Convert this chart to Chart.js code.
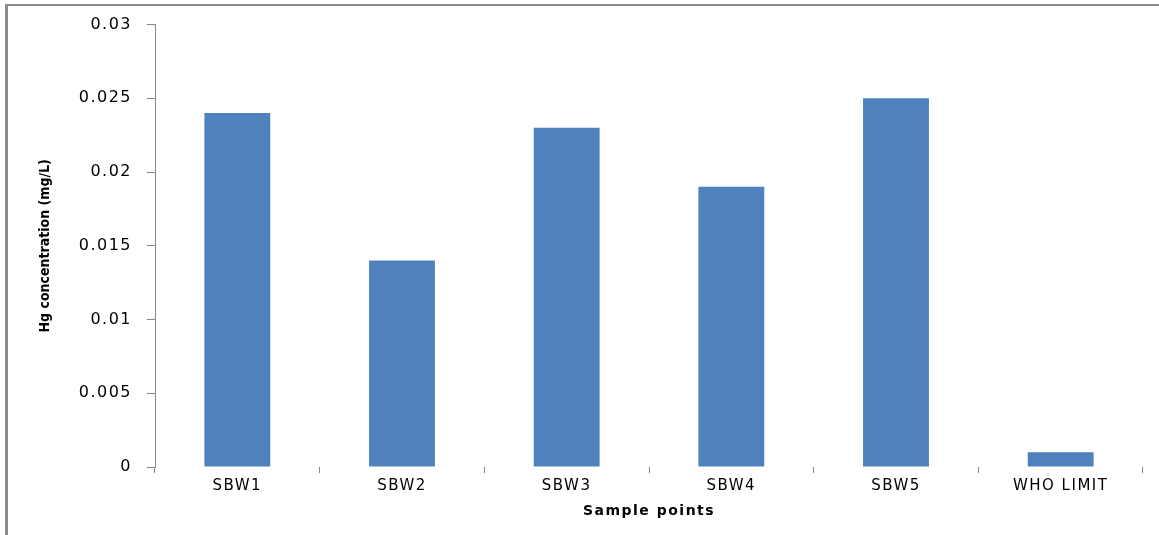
<!DOCTYPE html>
<html>
<head>
<meta charset="utf-8">
<script src="https://cdn.jsdelivr.net/npm/chart.js@4/dist/chart.umd.min.js"></script>
<style>
  body { margin: 0; background: #fff; }
  #wrap { position: relative; width: 1159px; height: 535px; }
</style>
</head>
<body>
<div id="wrap"><canvas id="myCanvas"></canvas></div>
<script>
// DATA for graph
let categories = ['SBW1', 'SBW2', 'SBW3', 'SBW4', 'SBW5', 'WHO LIMIT'];
let hgValues = [0.024, 0.014, 0.023, 0.019, 0.025, 0.001];
let yTicks = [0, 0.005, 0.01, 0.015, 0.02, 0.025, 0.03];
let yTitle = 'Hg concentration (mg/L)';

let axisGrey = '#868686';

// gray frame on left and top + a bit of letter spacing (original text is wide)
let framePlugin = {
    id: 'frame',
    beforeDraw(chart) {
        let ctx = chart.ctx;
        ctx.save();
        ctx.strokeStyle = '#8c8c8c';
        ctx.lineWidth = 2;
        ctx.beginPath();
        ctx.moveTo(5, 5);
        ctx.lineTo(1159, 5);
        ctx.stroke();
        ctx.lineWidth = 3;
        ctx.beginPath();
        ctx.moveTo(6.5, 4);
        ctx.lineTo(6.5, 535);
        ctx.stroke();
        ctx.restore();
        ctx.letterSpacing = '1.5px';
    },
    afterDraw(chart) {
        // y title drawn here so it keeps normal (narrow) spacing
        let ctx = chart.ctx;
        let area = chart.chartArea;
        ctx.save();
        ctx.letterSpacing = '0px';
        ctx.translate(45, (area.top + area.bottom) / 2);
        ctx.rotate(-Math.PI / 2);
        ctx.font = "bold 14px 'DejaVu Sans Condensed', sans-serif";
        ctx.fillStyle = '#000';
        ctx.textAlign = 'center';
        ctx.textBaseline = 'middle';
        ctx.fillText(yTitle, 0, 0);
        ctx.restore();
        ctx.letterSpacing = '0px';
    }
};

let data = {
    labels: categories,
    datasets: [{
        data: hgValues,
        backgroundColor: '#4F81BD',
        barPercentage: 0.4,
        categoryPercentage: 1.0
    }]
};

let options = {
    responsive: true,
    maintainAspectRatio: false,
    devicePixelRatio: 1,
    animation: false,
    layout: { padding: { top: 22, right: 16, left: 0, bottom: 0 } },
    plugins: { legend: { display: false }, tooltip: { enabled: false } },
    scales: {
        x: {
            offset: true,
            grid: { offset: true, drawOnChartArea: false, tickLength: 6, color: axisGrey },
            border: { display: false },
            ticks: { color: '#000', padding: 4, font: { family: 'DejaVu Sans', size: 15 } },
            title: {
                display: true,
                text: 'Sample points',
                color: '#000',
                font: { family: 'DejaVu Sans', size: 14, weight: 'bold' },
                padding: { top: 0, bottom: 15 }
            },
            afterFit(scale) { scale.height = 68; }
        },
        y: {
            min: 0,
            max: 0.03,
            afterBuildTicks(scale) { scale.ticks = yTicks.map(v => ({ value: v })); },
            grid: { drawOnChartArea: false, tickLength: 8, color: axisGrey },
            border: { display: true, color: axisGrey },
            ticks: {
                color: '#000',
                padding: 15,
                font: { family: 'DejaVu Sans', size: 16 },
                callback: v => String(+v.toFixed(3))
            },
            afterFit(scale) { scale.width = 155; }
        }
    }
};

let chrt = document.getElementById('myCanvas');
let myBarChart = new Chart(chrt, {
    type: 'bar',
    data: data,
    options: options,
    plugins: [framePlugin]
});
</script>
</body>
</html>
